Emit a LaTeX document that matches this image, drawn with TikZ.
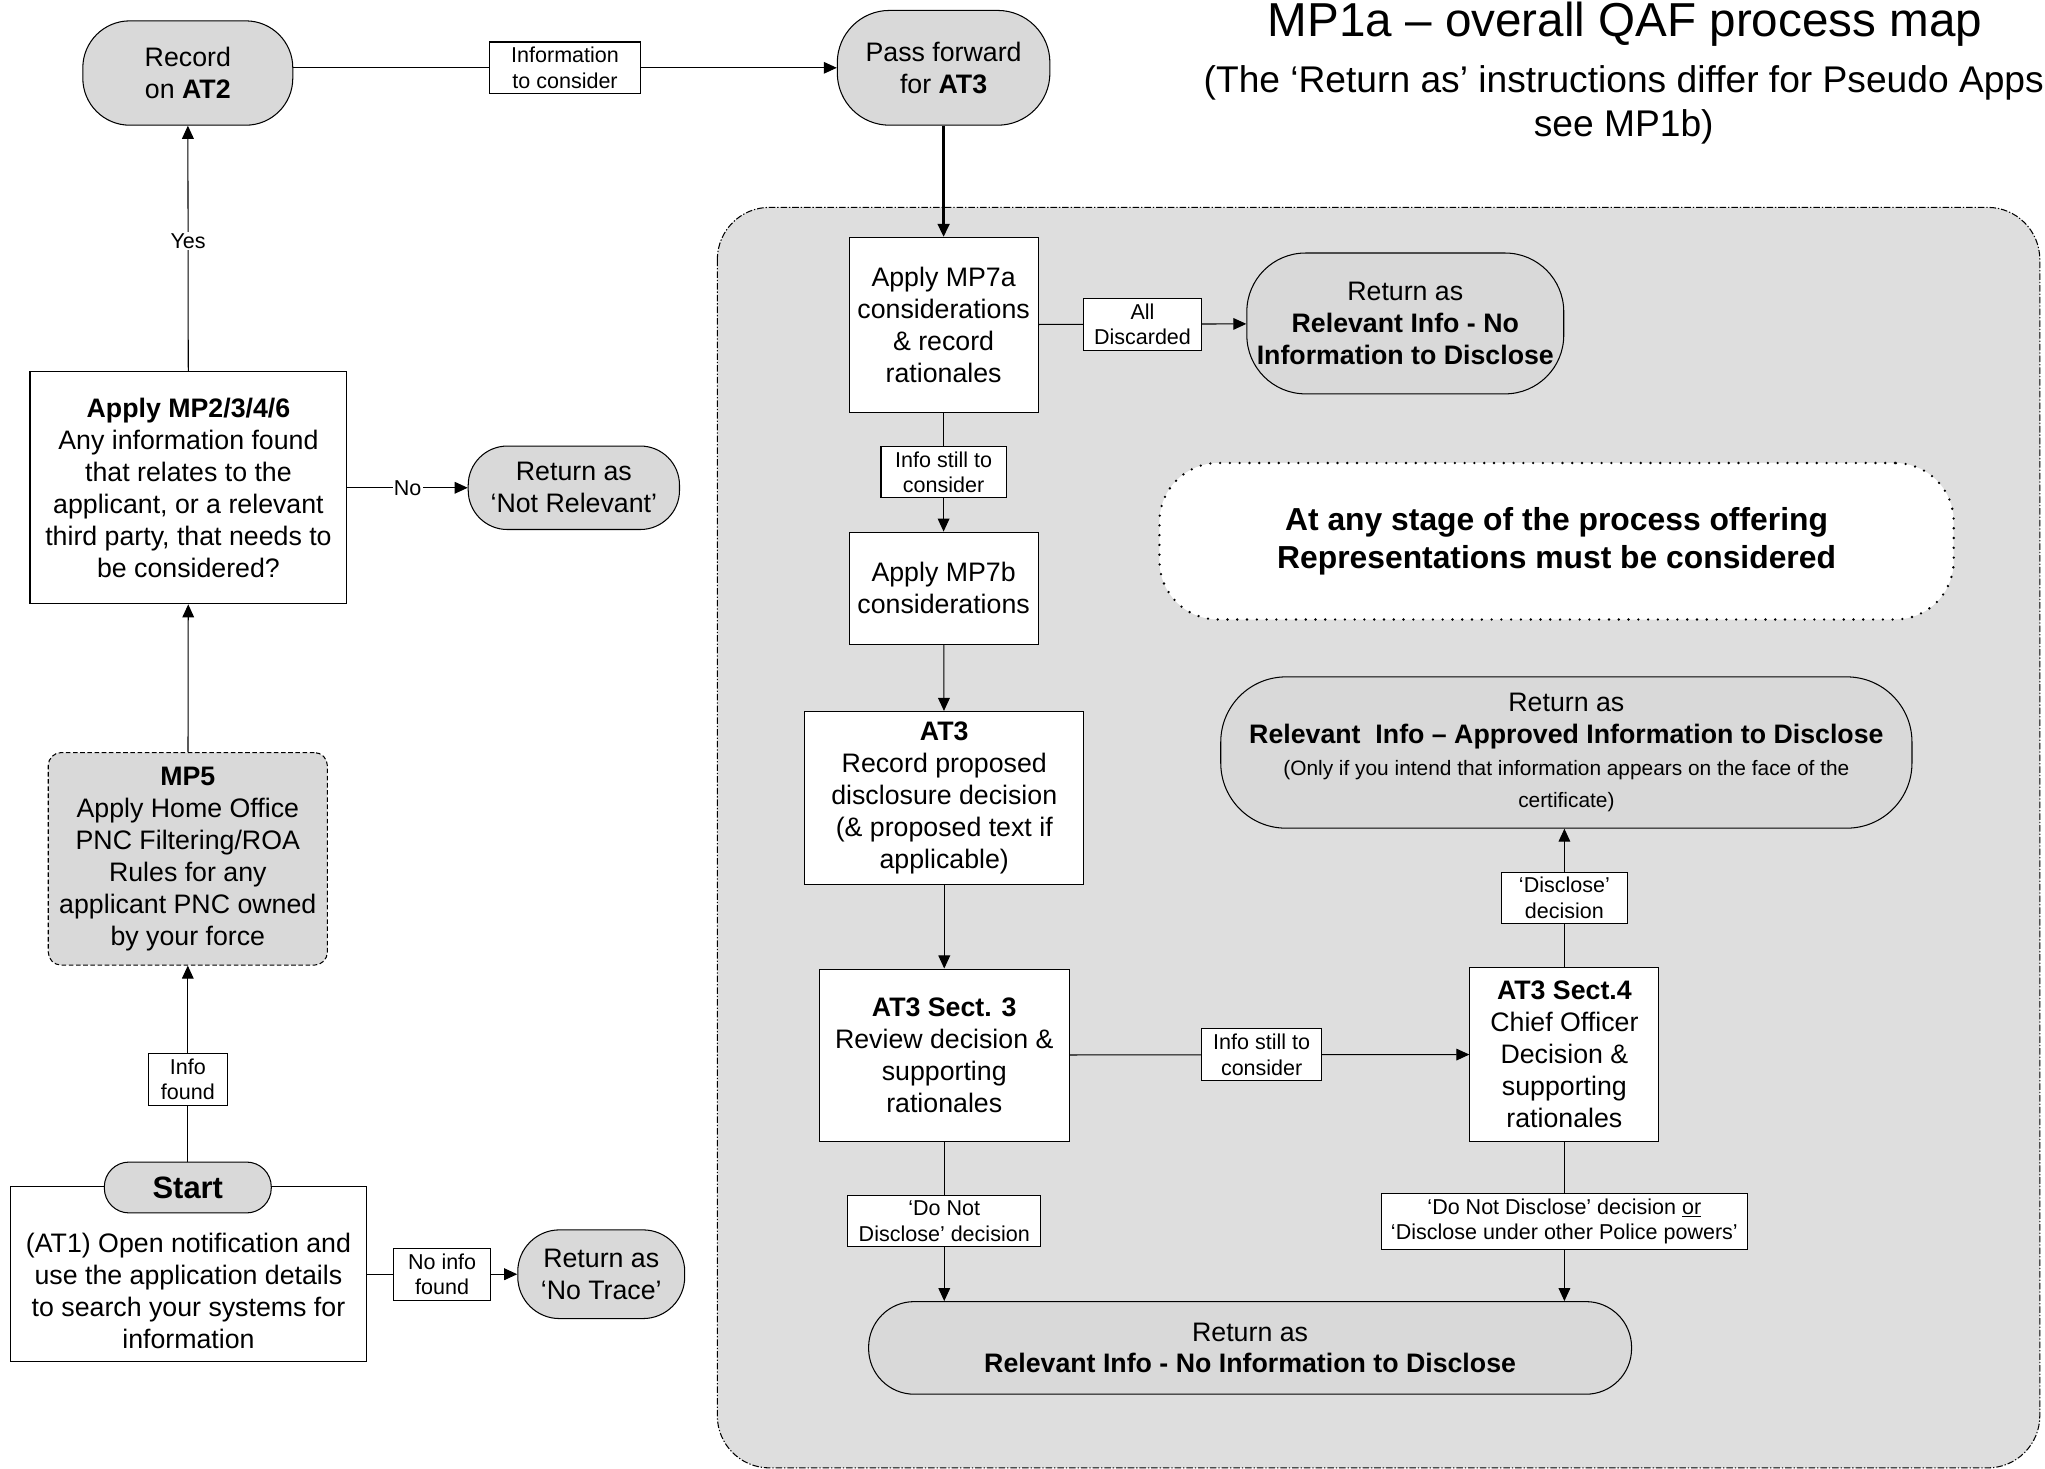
\documentclass[tikz,border=0pt]{standalone}
\usepackage{fontspec}
\setmainfont{Liberation Sans}
\usepackage{tikz}
\usetikzlibrary{arrows.meta}
\usetikzlibrary{backgrounds}
\definecolor{regiongray}{HTML}{DEDEDE}
\definecolor{nodegray}{HTML}{D9D9D9}
\newcommand{\bodyfont}{\fontsize{20.5}{24.5}\selectfont}
\newcommand{\labelfont}{\fontsize{16.5}{19.5}\selectfont}
\newcommand{\smallfont}{\fontsize{16}{19}\selectfont}

\begin{document}
\begin{tikzpicture}[x=1pt,y=-1pt]
	\useasboundingbox (0,0) rectangle (1568,1126);
	\draw[fill=regiongray, line width=0.8pt, dash pattern=on 5pt off 1.5pt on 1pt off 1.5pt, rounded corners=40pt] (550,159) rectangle (1564,1125.5);

	\node[font=\fontsize{36.5}{40}\selectfont, anchor=base] (title) at (1246,28) {MP1a – overall QAF process map};
	\node[font=\fontsize{28.5}{34}\selectfont, anchor=base] (sub1) at (1245,71) {(The ‘Return as’ instructions differ for Pseudo Apps};
	\node[font=\fontsize{28.5}{34}\selectfont, anchor=base] (sub2) at (1245,105) {see MP1b)};

	\begin{scope}[every node/.style={draw, line width=0.8pt, fill=white, align=center, font=\bodyfont, inner sep=0pt}]
		\node[minimum width=243pt, minimum height=178pt] (mp2) at (144.5,374) {\textbf{Apply MP2/3/4/6}\\Any information found\\that relates to the\\applicant, or a relevant\\third party, that needs to\\be considered?};
		\node[minimum width=214pt, minimum height=163pt, fill=nodegray, rounded corners=10pt, dash pattern=on 3.5pt off 2pt] (mp5) at (144,658.5) {\textbf{MP5}\\Apply Home Office\\PNC Filtering/ROA\\Rules for any\\applicant PNC owned\\by your force};
		\node[minimum width=273pt, minimum height=134pt] (at1) at (144.5,977) {\rule{0pt}{40pt}(AT1) Open notification and\\use the application details\\to search your systems for\\information};
		\node[minimum width=145pt, minimum height=134pt] (mp7a) at (723.5,249) {Apply MP7a\\considerations\\\& record\\rationales};
		\node[minimum width=145pt, minimum height=86pt] (mp7b) at (723.5,451) {Apply MP7b\\considerations};
		\node[minimum width=214pt, minimum height=133pt] (at3) at (724,612) {\textbf{AT3}\\Record proposed\\disclosure decision\\(\& proposed text if\\applicable)};
		\node[minimum width=192pt, minimum height=132pt] (sect3) at (724,809) {\textbf{AT3 Sect. 3}\\Review decision \&\\supporting\\rationales};
		\node[minimum width=145pt, minimum height=133pt] (sect4) at (1199.5,808.5) {\textbf{AT3 Sect.4}\\Chief Officer\\Decision \&\\supporting\\rationales};
		\node[minimum width=609pt, minimum height=120pt, line width=2pt, dash pattern=on 0pt off 7.5pt, line cap=round, rounded corners=45pt, font=\fontsize{24.4}{28.5}\selectfont\bfseries] (note) at (1193.5,415) {At any stage of the process offering\\Representations must be considered};
	\end{scope}

	\begin{scope}[every node/.style={draw, line width=0.8pt, fill=nodegray, align=center, font=\bodyfont, inner sep=0pt, rounded corners=36pt}]
		\node[minimum width=161pt, minimum height=80pt] (rec) at (144,56) {Record\\on \textbf{AT2}};
		\node[minimum width=163pt, minimum height=88pt, rounded corners=40pt] (pass) at (723.5,52) {Pass forward\\for \textbf{AT3}};
		\node[minimum width=162pt, minimum height=64pt, rounded corners=30pt] (notrel) at (440,374) {Return as\\‘Not Relevant’};
		\node[minimum width=128pt, minimum height=39pt, rounded corners=19pt, font=\fontsize{23.7}{28}\selectfont\bfseries] (start) at (144,910.5) {Start};
		\node[minimum width=128pt, minimum height=68pt, rounded corners=32pt] (notrace) at (461,977) {Return as\\‘No Trace’};
		\node[minimum width=243pt, minimum height=108pt, rounded corners=45pt] (rtop) at (1077.5,248) {Return as\\\textbf{Relevant Info - No}\\\textbf{Information to Disclose}};
		\node[minimum width=530pt, minimum height=116pt, rounded corners=50pt] (appr) at (1201,577) {Return as\\\textbf{Relevant~~Info – Approved Information to Disclose}\\{\smallfont (Only if you intend that information appears on the face of the}\\{\smallfont certificate)}};
		\node[minimum width=585pt, minimum height=71pt, rounded corners=35pt] (rbot) at (958.5,1033.5) {Return as\\\textbf{Relevant Info - No Information to Disclose}};
	\end{scope}

	\begin{scope}[>={Triangle[length=10pt,width=9pt]},
	              every node/.style={fill=white, font=\labelfont, align=center, inner xsep=2pt, inner ysep=4pt},
	              every edge/.style={draw=black, line width=0.8pt, ->},
	              tag/.style={draw, line width=0.8pt}]
		\path (mp2) edge node[pos=0.53, inner sep=1pt] {Yes} (rec);
		\path (mp2) edge node[inner sep=1pt] {No} (notrel);
		\path (mp5) edge (mp2);
		\path (start) edge node[tag, pos=0.42, minimum width=61pt] {Info\\found} (mp5);
		\path (at1) edge node[tag, minimum width=74pt] {No info\\found} (notrace);
		\path (rec.east |- pass.west) edge node[tag, minimum width=116pt] {Information\\to consider} (pass);
		\path (pass) edge[line width=2pt] (mp7a);
		\path (mp7a) edge node[tag, minimum width=91pt] {All\\Discarded} (rtop);
		\path (mp7a) edge node[tag, minimum width=96pt] {Info still to\\consider} (mp7b);
		\path (mp7b) edge (at3);
		\path (at3) edge (sect3);
		\path (sect3) edge node[tag, pos=0.48, minimum width=92pt] {Info still to\\consider} (sect4);
		\path (sect4) edge node[tag, minimum width=96pt] {‘Disclose’\\decision} (appr.south -| sect4);
		\path (sect3) edge node[tag, minimum width=148pt] {‘Do Not\\Disclose’ decision} (rbot.north -| sect3);
		\path (sect4) edge node[tag, minimum width=281pt] {‘Do Not Disclose’ decision \underline{or}\\‘Disclose under other Police powers’} (rbot.north -| sect4);
	\end{scope}
\end{tikzpicture}
\end{document}
